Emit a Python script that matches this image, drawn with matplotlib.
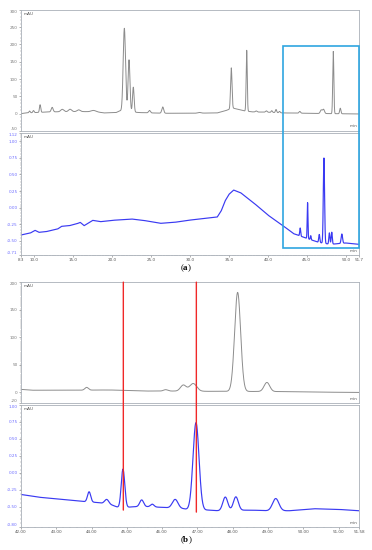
import numpy as np
import matplotlib
matplotlib.use("Agg")
import matplotlib.pyplot as plt
from matplotlib.patches import Rectangle, ConnectionPatch
from matplotlib.ticker import AutoMinorLocator, FixedLocator

plt.rcParams['mathtext.fontset'] = 'custom'
plt.rcParams['mathtext.rm'] = 'Liberation Serif'
plt.rcParams['mathtext.bf'] = 'Liberation Serif:bold'

# ---- panel (a), full run, 254 nm (gray) ----
a1_base_t = [8.3, 9.0, 12.0, 16.0, 18.0, 19.0, 20.5, 21.0, 23.5, 25.0, 27.0, 30.0,
             33.5, 34.5, 35.5, 37.0, 38.0, 40.0, 42.0, 45.0, 48.0, 51.7]
a1_base_v = [0, 2, 5, 6, 5, 2, 3, 8, 3, 2, 1, 1, 2, 8, 16, 8, 5, 4, 2, 1, 0, -1]
a1_peak_t = [9.4, 9.9, 10.75, 12.3, 13.6, 14.6, 15.7, 17.6, 21.57, 22.17, 22.72,
             24.8, 26.5, 31.2, 35.3, 37.28, 38.5, 39.8, 40.5, 41.05, 41.5, 44.1,
             46.85, 47.15, 48.4, 49.3]
a1_peak_h = [5, 6, 22, 13, 7, 7, 5, 4, 240, 150, 72, 7, 18, 2, 118, 176, 3, 4, 5,
             9, 4, 5, 10, 12, 180, 16]
a1_peak_w = [0.08, 0.08, 0.08, 0.12, 0.2, 0.2, 0.2, 0.3, 0.15, 0.12, 0.1, 0.12,
             0.12, 0.2, 0.09, 0.07, 0.1, 0.1, 0.08, 0.08, 0.08, 0.1, 0.12, 0.12,
             0.07, 0.08]

# ---- panel (a), full run, second detector (blue) ----
a2_base_t = [8.3, 9.5, 10.1, 10.6, 11.5, 13.0, 13.5, 14.5, 15.5, 15.9, 16.4, 17.5,
             18.5, 20.0, 22.5, 24.0, 26.2, 28.0, 29.7, 33.5, 34.0, 34.5, 35.0,
             35.6, 36.5, 38.2, 40.0, 42.0, 43.3, 45.0, 46.5, 48.0, 50.0, 51.7]
a2_base_v = [-0.41, -0.38, -0.34, -0.37, -0.36, -0.32, -0.28, -0.27, -0.24, -0.22,
             -0.27, -0.19, -0.21, -0.19, -0.17, -0.19, -0.235, -0.22, -0.19, -0.14,
             -0.05, 0.10, 0.20, 0.265, 0.225, 0.07, -0.11, -0.275, -0.39, -0.46,
             -0.52, -0.55, -0.53, -0.55]
a2_peak_t = [44.15, 45.1, 45.5, 46.6, 47.2, 47.9, 48.2, 49.5]
a2_peak_h = [0.12, 0.54, 0.06, 0.12, 1.28, 0.17, 0.18, 0.14]
a2_peak_w = [0.06, 0.05, 0.05, 0.07, 0.08, 0.07, 0.07, 0.09]

# ---- panel (b), zoom 42-51.58 min (gray) ----
b1_base_t = [42.0, 42.3, 43.5, 44.5, 45.0, 45.5, 46.3, 47.3, 47.7, 49.5, 50.5, 51.58]
b1_base_v = [5, 3.5, 3.5, 4, 3, 2, 2, 1.5, 1.5, 1, 0, -0.5]
b1_peak_t = [43.86, 46.1, 46.6, 46.88, 48.14, 48.97]
b1_peak_h = [5, 2.5, 11, 14, 180, 16.5]
b1_peak_w = [0.05, 0.06, 0.08, 0.1, 0.085, 0.08]

# ---- panel (b), zoom (blue) ----
b2_base_t = [42.0, 42.5, 43.3, 43.8, 44.2, 44.6, 44.8, 45.2, 45.6, 46.0, 46.6, 46.8,
             47.3, 47.6, 48.5, 49.0, 49.6, 50.3, 51.0, 51.58]
b2_base_v = [-0.32, -0.36, -0.40, -0.425, -0.44, -0.48, -0.52, -0.50, -0.50, -0.51,
             -0.53, -0.55, -0.55, -0.56, -0.55, -0.56, -0.56, -0.53, -0.54, -0.56]
b2_peak_t = [43.93, 44.43, 44.89, 45.42, 45.72, 46.37, 46.96, 47.79, 48.09, 49.22]
b2_peak_h = [0.15, 0.07, 0.57, 0.10, 0.04, 0.13, 1.29, 0.20, 0.20, 0.18]
b2_peak_w = [0.045, 0.06, 0.05, 0.055, 0.05, 0.08, 0.085, 0.07, 0.07, 0.09]

marker_t = [44.9, 46.97]
marker_low = [-0.55, -0.58]

a1_yticks = [300, 250, 200, 150, 100, 50, 0, -50]
a2_yticks = [1.12, 1.00, 0.75, 0.50, 0.25, 0.00, -0.25, -0.50, -0.71]
a_xticks = [8.3, 10.0, 15.0, 20.0, 25.0, 30.0, 35.0, 40.0, 45.0, 50.0, 51.7]
b1_yticks = [200, 150, 100, 50, 0, -20]
b2_yticks = [1.00, 0.75, 0.50, 0.25, 0.00, -0.25, -0.50, -0.80]
b_xticks = [42.0, 43.0, 44.0, 45.0, 46.0, 47.0, 48.0, 49.0, 50.0, 51.0, 51.58]


def trace(t, base_t, base_v, pt, ph, pw):
    y = np.interp(t, base_t, base_v)
    for c, h, w in zip(pt, ph, pw):
        y = y + h * np.exp(-0.5 * ((t - c) / w) ** 2)
    return y


GRAY = '#8c8c8c'
BLUE = '#3a3af2'
FRAME = '#a9b0b8'
TICKBLUE = '#6a6aff'


def style(ax, yticks, yfmt, ycol, xticks=None, xfmt=None):
    ax.set_ylim(yticks[-1], yticks[0])
    ax.yaxis.set_major_locator(FixedLocator(yticks))
    labels = ax.set_yticklabels([yfmt.format(v) for v in yticks], color=ycol)
    # edge labels sit at the frame edges, keep them inside their own panel
    labels[0].set_va('top')
    labels[-1].set_va('bottom')
    ax.yaxis.set_minor_locator(AutoMinorLocator(5))
    if xticks is None:
        ax.set_xticks([])
    else:
        ax.xaxis.set_major_locator(FixedLocator(xticks))
        ax.set_xticklabels([xfmt.format(v) for v in xticks], color='#555555')
        ax.xaxis.set_minor_locator(AutoMinorLocator(5))
    ax.tick_params(axis='both', which='major', labelsize=3, length=1.6, width=0.4,
                   color='#777777', pad=0.8)
    ax.tick_params(axis='both', which='minor', length=0.9, width=0.3, color='#888888')
    for s in ax.spines.values():
        s.set_color(FRAME)
        s.set_linewidth(0.6)
    ax.text(0.008, 0.985, 'mAU', transform=ax.transAxes, fontsize=3, color='#555555',
            ha='left', va='top')
    ax.text(0.995, 0.02, 'min', transform=ax.transAxes, fontsize=3, color='#555555',
            ha='right', va='bottom')


fig = plt.figure(figsize=(3.72, 5.5), dpi=100)
fig.patch.set_facecolor('white')

L, W = 0.0565, 0.9085
ax_a1 = fig.add_axes([L, 0.762, W, 0.220])
ax_a2 = fig.add_axes([L, 0.5364, W, 0.2216])
ax_b1 = fig.add_axes([L, 0.267, W, 0.220])
ax_b2 = fig.add_axes([L, 0.0418, W, 0.2218])

ta = np.linspace(8.3, 51.7, 6000)
tb = np.linspace(42.0, 51.58, 4000)

ax_a1.plot(ta, trace(ta, a1_base_t, a1_base_v, a1_peak_t, a1_peak_h, a1_peak_w),
           color=GRAY, lw=0.7)
ax_a2.plot(ta, trace(ta, a2_base_t, a2_base_v, a2_peak_t, a2_peak_h, a2_peak_w),
           color=BLUE, lw=0.85)
ax_b1.plot(tb, trace(tb, b1_base_t, b1_base_v, b1_peak_t, b1_peak_h, b1_peak_w),
           color=GRAY, lw=0.7)
ax_b2.plot(tb, trace(tb, b2_base_t, b2_base_v, b2_peak_t, b2_peak_h, b2_peak_w),
           color=BLUE, lw=0.85)

for ax in (ax_a1, ax_a2):
    ax.set_xlim(8.3, 51.7)
for ax in (ax_b1, ax_b2):
    ax.set_xlim(42.0, 51.58)

style(ax_a1, a1_yticks, '{:.0f}', '#777777')
style(ax_a2, a2_yticks, '{:.2f}', TICKBLUE, a_xticks, '{:.1f}')
style(ax_b1, b1_yticks, '{:.0f}', '#777777')
style(ax_b2, b2_yticks, '{:.2f}', TICKBLUE, b_xticks, '{:.2f}')

# blue box marking the zoomed region across both (a) traces
inv = fig.transFigure.inverted()
p0 = inv.transform(ax_a2.transData.transform((42.0, -0.61)))
p1 = inv.transform(ax_a1.transData.transform((51.65, 195)))
fig.add_artist(Rectangle(p0, p1[0] - p0[0], p1[1] - p0[1], transform=fig.transFigure,
                         fill=False, edgecolor='#2fa6e0', lw=1.2, zorder=10))

# red marker lines across both (b) traces
for x, yl in zip(marker_t, marker_low):
    cp = ConnectionPatch(xyA=(x, b1_yticks[0]), coordsA=ax_b1.transData,
                         xyB=(x, yl), coordsB=ax_b2.transData,
                         color='#f02828', lw=1.0, zorder=10)
    fig.add_artist(cp)

fig.text(0.5, 0.513, r'$\mathrm{(}\mathbf{a}\mathrm{)}$', ha='center', va='center',
         fontsize=6.5)
fig.text(0.5, 0.018, r'$\mathrm{(}\mathbf{b}\mathrm{)}$', ha='center', va='center',
         fontsize=6.5)

fig.savefig('out.png', dpi=100, facecolor='white')
